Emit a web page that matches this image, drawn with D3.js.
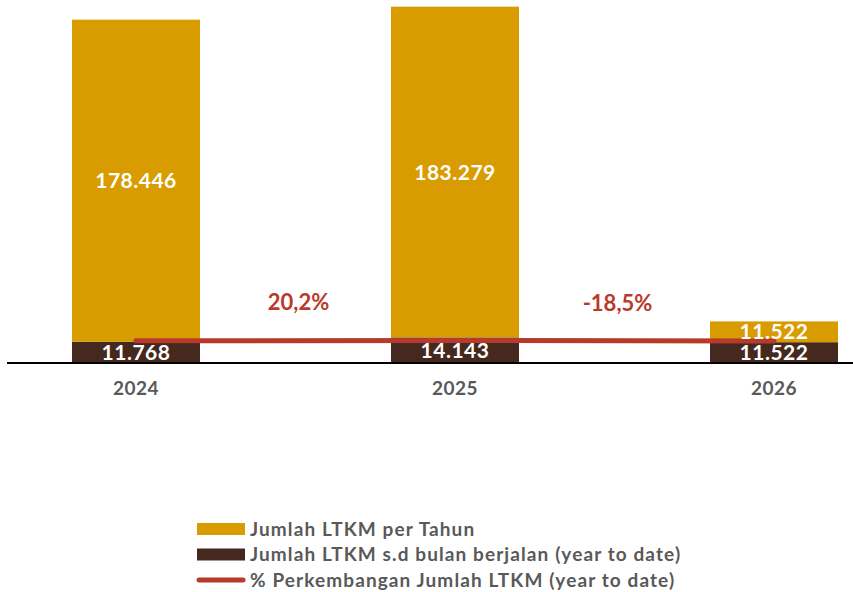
<!DOCTYPE html>
<html>
<head>
<meta charset="utf-8">
<script src="https://cdn.jsdelivr.net/npm/d3@7"></script>
<style>
  body { margin: 0; background: #fff; }
  text { font-family: Lato, "Open Sans", sans-serif; font-weight: bold; }
</style>
</head>
<body>
<div id="chart-area"></div>
<script>
const years = ["2024", "2025", "2026"];
const perYear = [178446, 183279, 11522];
const ytd = [11768, 14143, 11522];
const growthPct = [0, 20.2, -18.5];
const growthLabels = ["20,2%", "-18,5%"];
const legendLabels = [
  "Jumlah LTKM per Tahun",
  "Jumlah LTKM s.d bulan berjalan (year to date)",
  "% Perkembangan Jumlah LTKM (year to date)"
];

const width = 853;
const height = 592;
const baseY = 363;
const barWidth = 128;

const gold = "#d89b00";
const brown = "#45291e";
const red = "#b83a2b";
const grey = "#595959";

const svg = d3.select("#chart-area")
  .append("svg")
  .attr("width", width)
  .attr("height", height);

const x = d3.scalePoint()
  .domain(years)
  .range([136, 774]);

const y = d3.scaleLinear()
  .domain([0, 200000])
  .range([baseY, 2]);

// secondary axis for the percentage line
const y2 = d3.scaleLinear()
  .domain([-2000, 30000])
  .range([baseY, 7]);

const fmt = d3.format(",");
const dotFmt = v => fmt(v).replace(/,/g, ".");

const data = years.map((yr, i) => ({ year: yr, ytd: ytd[i], total: perYear[i] }));

// ytd segment at bottom
svg.selectAll("rect.ytd")
  .data(data)
  .enter()
  .append("rect")
  .attr("class", "ytd")
  .attr("x", d => x(d.year) - barWidth / 2)
  .attr("y", d => y(d.ytd))
  .attr("width", barWidth)
  .attr("height", d => baseY - y(d.ytd))
  .attr("fill", brown);

// per-year segment stacked on top
svg.selectAll("rect.total")
  .data(data)
  .enter()
  .append("rect")
  .attr("class", "total")
  .attr("x", d => x(d.year) - barWidth / 2)
  .attr("y", d => y(d.ytd + d.total))
  .attr("width", barWidth)
  .attr("height", d => y(d.ytd) - y(d.ytd + d.total))
  .attr("fill", gold);

// axis baseline
svg.append("line")
  .attr("x1", 7)
  .attr("x2", width)
  .attr("y1", baseY)
  .attr("y2", baseY)
  .attr("stroke", "#000")
  .attr("stroke-width", 2);

// growth line
const line = d3.line()
  .x((d, i) => x(years[i]))
  .y(d => y2(d));

svg.append("path")
  .datum(growthPct)
  .attr("d", line)
  .attr("fill", "none")
  .attr("stroke", red)
  .attr("stroke-width", 5)
  .attr("stroke-linecap", "round");

// value labels
svg.selectAll("text.total-label")
  .data(data)
  .enter()
  .append("text")
  .attr("class", "total-label")
  .attr("x", d => x(d.year))
  .attr("y", d => (y(d.ytd) + y(d.ytd + d.total)) / 2)
  .attr("dy", "0.36em")
  .attr("text-anchor", "middle")
  .attr("fill", "#fff")
  .style("font-size", "21px")
  .style("letter-spacing", "0.5px")
  .text(d => dotFmt(d.total));

svg.selectAll("text.ytd-label")
  .data(data)
  .enter()
  .append("text")
  .attr("class", "ytd-label")
  .attr("x", d => x(d.year))
  .attr("y", d => (baseY + y(d.ytd)) / 2)
  .attr("dy", "0.36em")
  .attr("text-anchor", "middle")
  .attr("fill", "#fff")
  .style("font-size", "21px")
  .style("letter-spacing", "0.5px")
  .text(d => dotFmt(d.ytd));

// percentage labels between years
svg.selectAll("text.pct-label")
  .data(growthLabels)
  .enter()
  .append("text")
  .attr("class", "pct-label")
  .attr("x", (d, i) => (x(years[i]) + x(years[i + 1])) / 2 + 3)
  .attr("y", (d, i) => y2(growthPct[i + 1]) - 38)
  .attr("dy", "0.36em")
  .attr("text-anchor", "middle")
  .attr("fill", red)
  .style("font-size", "22px")
  .text(d => d);

// year labels
svg.selectAll("text.year-label")
  .data(years)
  .enter()
  .append("text")
  .attr("class", "year-label")
  .attr("x", d => x(d))
  .attr("y", 388)
  .attr("dy", "0.36em")
  .attr("text-anchor", "middle")
  .attr("fill", grey)
  .style("font-size", "19px")
  .style("letter-spacing", "0.5px")
  .text(d => d);

// legend
const legend = svg.append("g")
  .attr("transform", "translate(197, 529)");

legendLabels.forEach((label, i) => {
  const row = legend.append("g")
    .attr("transform", `translate(0, ${i * 25.5})`);

  if (i < 2) {
    row.append("rect")
      .attr("y", -6)
      .attr("width", 48)
      .attr("height", 12)
      .attr("fill", i === 0 ? gold : brown);
  } else {
    row.append("line")
      .attr("x1", 2)
      .attr("x2", 46)
      .attr("stroke", red)
      .attr("stroke-width", 5)
      .attr("stroke-linecap", "round");
  }

  row.append("text")
    .attr("x", 53)
    .attr("dy", "0.36em")
    .attr("fill", grey)
    .style("font-size", "19px")
    .style("letter-spacing", "1.1px")
    .text(label);
});
</script>
</body>
</html>
